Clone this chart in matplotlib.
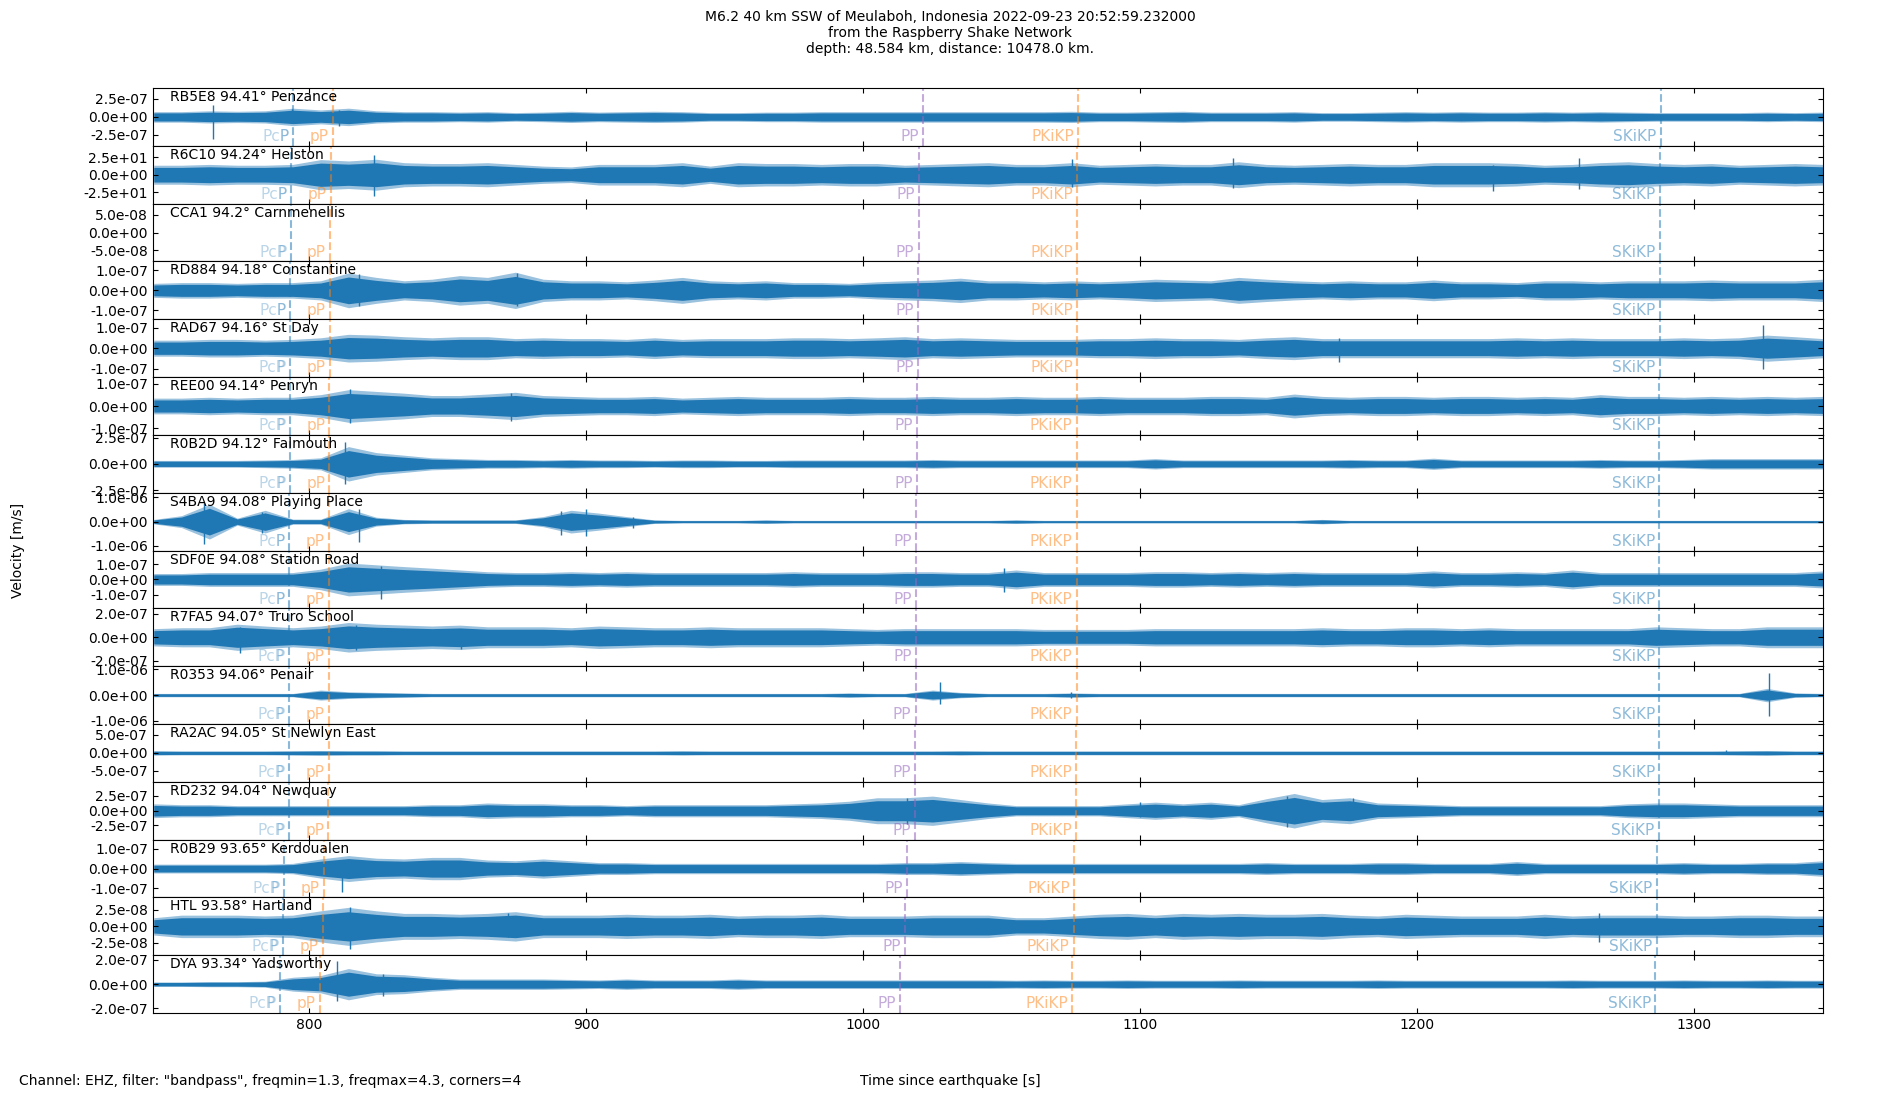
import numpy as np
import matplotlib
matplotlib.use("Agg")
import matplotlib.pyplot as plt
from matplotlib.ticker import FormatStrFormatter

# station info, top to bottom
stations = ["RB5E8", "R6C10", "CCA1", "RD884", "RAD67", "REE00", "R0B2D", "S4BA9",
            "SDF0E", "R7FA5", "R0353", "RA2AC", "RD232", "R0B29", "HTL", "DYA"]
distances = ["94.41", "94.24", "94.2", "94.18", "94.16", "94.14", "94.12", "94.08",
             "94.08", "94.07", "94.06", "94.05", "94.04", "93.65", "93.58", "93.34"]
places = ["Penzance", "Helston", "Carnmenellis", "Constantine", "St Day", "Penryn",
          "Falmouth", "Playing Place", "Station Road", "Truro School", "Penair",
          "St Newlyn East", "Newquay", "Kerdoualen", "Hartland", "Yadsworthy"]

# y tick value and half y-range of each panel
tick_vals = [2.5e-7, 2.5e1, 5e-8, 1e-7, 1e-7, 1e-7, 2.5e-7, 1e-6,
             1e-7, 2e-7, 1e-6, 5e-7, 2.5e-7, 1e-7, 2.5e-8, 2e-7]
y_half = [4.0e-7, 41.5, 8.15e-8, 1.45e-7, 1.41e-7, 1.29e-7, 2.75e-7, 1.19e-6,
          1.9e-7, 2.44e-7, 1.12e-6, 8.0e-7, 4.9e-7, 1.45e-7, 4.35e-8, 2.38e-7]

# arrival times [s] per station
t_P = [794.4, 793.6, 793.4, 793.3, 793.2, 793.2, 793.1, 792.9,
       792.9, 792.8, 792.8, 792.7, 792.7, 790.9, 790.6, 789.5]
t_PcP = t_P
t_pP = [808.6, 807.9, 807.7, 807.6, 807.5, 807.4, 807.4, 807.2,
        807.2, 807.1, 807.1, 807.1, 807.0, 805.3, 805.0, 804.0]
t_PP = [1021.7, 1020.4, 1020.1, 1019.9, 1019.8, 1019.6, 1019.5, 1019.2,
        1019.2, 1019.1, 1019.0, 1018.9, 1018.9, 1015.8, 1015.3, 1013.5]
t_PKiKP = [1077.8, 1077.4, 1077.4, 1077.3, 1077.3, 1077.2, 1077.2, 1077.1,
           1077.1, 1077.1, 1077.1, 1077.0, 1077.0, 1076.2, 1076.1, 1075.6]
t_SKiKP = [1288.0, 1287.7, 1287.6, 1287.6, 1287.6, 1287.5, 1287.5, 1287.4,
           1287.4, 1287.4, 1287.4, 1287.4, 1287.3, 1286.6, 1286.5, 1286.1]

# trace envelopes (half amplitude), read every ~10 s
times = np.linspace(744.0, 1346.5, 61)
env_RB5E8 = np.array([0.56,0.56,0.65,0.60,0.65,0.93,0.74,0.93,0.65,0.56, 0.56,0.51,0.56,0.46,0.51,0.60,0.51,0.56,0.60,0.56,
                      0.46,0.46,0.51,0.51,0.56,0.56,0.56,0.56,0.56,0.56, 0.56,
                      0.56,0.56,0.60,0.51,0.51,0.56,0.60,0.51,0.51,0.51, 0.56,0.46,0.46,0.51,0.56,0.51,0.56,0.51,0.51,0.56,
                      0.51,0.56,0.51,0.46,0.46,0.46,0.46,0.51,0.46,0.51]) * 1e-7
env_R6C10 = np.array([10.5,10.5,11.4,10.5,10.5,11.4,16.7,15.2,17.1,13.3, 12.4,12.4,13.3,11.4,9.5,8.6,11.4,11.4,11.4,13.3,
                      9.5,13.3,12.4,12.4,11.4,12.4,12.4,10.5,11.4,12.4, 13.3,
                      11.4,11.4,13.3,10.5,11.4,12.4,11.4,11.4,14.3,11.4, 10.5,11.4,12.4,11.4,11.4,13.3,13.3,13.3,12.4,10.5,
                      11.4,13.3,14.3,12.4,11.4,12.4,10.5,11.4,12.4,11.4])
env_CCA1 = None
env_RD884 = np.array([.27,.30,.30,.27,.30,.30,.37,.67,.50,.37, .43,.57,.50,.70,.43,.37,.37,.33,.40,.50,
                      .37,.33,.37,.30,.30,.27,.33,.37,.40,.47, .37,
                      .37,.33,.37,.33,.37,.43,.40,.37,.50,.43, .37,.33,.37,.33,.33,.40,.33,.33,.30,.37,
                      .37,.33,.37,.37,.37,.40,.37,.37,.37,.43]) * 1e-7
env_RAD67 = np.array([.30,.30,.33,.33,.30,.33,.39,.52,.49,.43, .39,.43,.43,.36,.39,.36,.36,.33,.39,.33,
                      .36,.36,.36,.39,.39,.36,.39,.43,.36,.39, .36,
                      .33,.33,.33,.36,.36,.39,.36,.36,.33,.39, .43,.36,.36,.36,.36,.36,.36,.36,.39,.36,
                      .39,.36,.36,.36,.39,.36,.39,.49,.43,.36]) * 1e-7
env_REE00 = np.array([.27,.27,.30,.27,.30,.30,.39,.56,.50,.44, .36,.36,.41,.47,.36,.33,.30,.30,.33,.27,
                      .30,.33,.30,.30,.30,.33,.30,.30,.33,.30, .30,
                      .33,.30,.30,.33,.30,.30,.30,.33,.33,.30, .41,.33,.30,.33,.33,.30,.33,.33,.30,.33,
                      .30,.39,.33,.33,.30,.33,.30,.33,.30,.33]) * 1e-7
env_R0B2D = np.array([.25,.25,.25,.25,.28,.32,.44,1.26,.82,.63, .44,.38,.32,.32,.28,.32,.28,.28,.25,.28,
                      .28,.25,.25,.28,.28,.28,.28,.28,.32,.28, .28,
                      .28,.28,.28,.28,.28,.38,.28,.28,.28,.28, .28,.28,.32,.28,.28,.41,.28,.28,.28,.28,
                      .28,.32,.28,.28,.32,.38,.38,.38,.38,.38]) * 1e-7
env_S4BA9 = np.array([.07,.19,.55,.11,.36,.08,.08,.41,.14,.07, .055,.055,.055,.055,.16,.36,.27,.16,.055,.04,
                      .04,.04,.055,.04,.04,.04,.04,.04,.04,.04, .04,
                      .055,.04,.04,.04,.04,.04,.04,.04,.04,.04, .04,.07,.04,.04,.04,.04,.04,.04,.04,.04,
                      .04,.04,.04,.04,.04,.04,.04,.04,.04,.04]) * 1e-6
env_SDF0E = np.array([.30,.30,.35,.35,.35,.35,.52,.83,.74,.65, .57,.48,.39,.35,.35,.39,.35,.39,.35,.35,
                      .35,.35,.35,.39,.35,.35,.35,.39,.39,.35, .35,
                      .48,.35,.35,.35,.35,.39,.39,.35,.39,.35, .39,.35,.35,.35,.35,.43,.35,.35,.39,.35,
                      .48,.35,.35,.35,.35,.35,.35,.35,.35,.43]) * 1e-7
env_R7FA5 = np.array([.56,.62,.62,.85,.73,.62,.73,.96,.85,.79, .73,.79,.68,.68,.68,.62,.73,.68,.62,.62,
                      .68,.62,.62,.62,.62,.56,.51,.56,.56,.56, .56,
                      .56,.51,.51,.51,.51,.56,.56,.56,.56,.56, .56,.62,.56,.56,.62,.62,.56,.62,.56,.56,
                      .56,.56,.56,.68,.62,.56,.56,.68,.68,.68]) * 1e-7
env_R0353 = np.array([.05,.05,.05,.05,.05,.05,.15,.10,.08,.065, .05,.05,.05,.05,.05,.05,.05,.05,.05,.05,
                      .05,.05,.05,.05,.05,.065,.05,.05,.15,.08, .05,
                      .05,.05,.065,.05,.05,.05,.05,.05,.05,.05, .05,.05,.05,.05,.05,.05,.05,.05,.05,.05,
                      .05,.05,.05,.05,.05,.05,.05,.2,.065,.05]) * 1e-6
env_RA2AC = np.array([.46,.42,.42,.42,.42,.46,.50,.46,.46,.42, .42,.42,.42,.42,.42,.42,.42,.42,.42,.46,
                      .42,.42,.42,.42,.42,.42,.42,.42,.42,.46, .42,
                      .42,.42,.42,.42,.42,.42,.42,.42,.42,.42, .42,.42,.42,.42,.42,.42,.42,.42,.42,.42,
                      .42,.42,.42,.42,.42,.42,.46,.50,.42,.42]) * 1e-7
env_RD232 = np.array([.90,.79,.79,.67,.67,.67,.67,.67,.67,.67, .79,.79,1.01,.90,.90,.79,.79,.67,.79,.79,
                      .79,.79,.79,.90,1.01,1.24,1.69,1.69,1.91,1.46, 1.01,
                      .67,.67,.67,.67,.90,1.12,.90,1.12,.79,1.57, 2.25,1.46,1.69,1.01,.90,.79,.67,.67,.67,.67,
                      .67,.67,.90,1.01,1.01,.90,.79,.79,.79,.79]) * 1e-7
env_R0B29 = np.array([.17,.17,.17,.17,.17,.20,.37,.50,.40,.37, .43,.43,.33,.30,.37,.30,.23,.23,.20,.20,
                      .20,.20,.20,.20,.20,.20,.20,.23,.23,.27, .23,
                      .20,.20,.20,.20,.20,.20,.20,.20,.20,.23, .20,.20,.20,.23,.23,.20,.20,.20,.27,.20,
                      .20,.20,.20,.20,.23,.20,.20,.23,.23,.30]) * 1e-7
env_HTL = np.array([1.0,1.3,1.3,1.3,1.2,1.3,1.8,2.2,1.8,1.5, 1.5,1.4,1.5,1.7,1.3,1.3,1.3,1.4,1.3,1.3,
                    1.4,1.2,1.3,1.3,1.4,1.2,1.2,1.2,1.3,1.3, 1.3,
                    1.0,1.0,1.2,1.4,1.5,1.3,1.5,1.4,1.5,1.4, 1.4,1.5,1.3,1.2,1.4,1.3,1.2,1.2,1.2,1.4,
                    1.2,1.3,1.3,1.3,1.2,1.2,1.3,1.3,1.2,1.2]) * 1e-8
env_DYA = np.array([.14,.14,.16,.16,.19,.44,.55,.99,.66,.60, .44,.33,.33,.33,.33,.30,.27,.33,.27,.27,
                    .27,.33,.27,.27,.27,.27,.27,.27,.27,.27, .27,
                    .25,.27,.25,.25,.27,.25,.25,.25,.27,.25, .25,.25,.25,.27,.25,.25,.25,.25,.25,.25,
                    .27,.25,.25,.25,.27,.25,.25,.27,.25,.25]) * 1e-7

# single large excursions: (time, up, down)
spk_RB5E8 = [(765.5, 1.7e-7, 3.05e-7), (794.0, 1.1e-7, 0.8e-7), (811.0, 1.0e-7, 1.2e-7)]
spk_R6C10 = [(823.4, 28.6, 31.0), (1133.6, 23.8, 19.0), (1258.4, 24.0, 21.0), (1075.6, 22.0, 17.0), (1227.5, 14.0, 23.8)]
spk_CCA1 = []
spk_RD884 = [(818.0, 0.8e-7, 0.78e-7), (875.0, 0.88e-7, 0.78e-7)]
spk_RAD67 = [(1325.0, 1.15e-7, 1.0e-7), (1172.0, 0.5e-7, 0.67e-7)]
spk_REE00 = [(815.0, 0.78e-7, 0.77e-7), (873.0, 0.6e-7, 0.65e-7)]
spk_R0B2D = [(813.0, 2.05e-7, 1.95e-7)]
spk_S4BA9 = [(762.0, .78e-6, .93e-6), (783.0, .41e-6, .45e-6), (818.0, .53e-6, .84e-6),
             (891.0, .45e-6, .55e-6), (900.0, .51e-6, .59e-6), (917.0, .2e-6, .27e-6)]
spk_SDF0E = [(1051.0, .74e-7, .83e-7), (826.0, .91e-7, 1.26e-7)]
spk_R7FA5 = [(775.0, .9e-7, 1.33e-7), (817.0, 1.0e-7, 1.1e-7), (855.0, .7e-7, 1.0e-7)]
spk_R0353 = [(1028.0, .5e-6, .36e-6), (1327.0, .86e-6, .81e-6), (1075.0, .13e-6, .1e-6)]
spk_RA2AC = [(1311.6, .73e-7, .4e-7)]
spk_RD232 = [(1153.0, 2.5e-7, 2.8e-7), (1177.0, 2.1e-7, 1.5e-7), (1016.0, 2.1e-7, 2.3e-7), (1100.0, 1.4e-7, 1.0e-7)]
spk_R0B29 = [(812.0, .42e-7, 1.17e-7)]
spk_HTL = [(815.0, 2.85e-8, 3.4e-8), (871.7, 2.0e-8, 1.6e-8), (1265.7, 2.0e-8, 2.4e-8)]
spk_DYA = [(810.0, 1.89e-7, 1.4e-7), (826.6, .85e-7, 1.0e-7)]

envelopes = [env_RB5E8, env_R6C10, env_CCA1, env_RD884, env_RAD67, env_REE00, env_R0B2D, env_S4BA9,
             env_SDF0E, env_R7FA5, env_R0353, env_RA2AC, env_RD232, env_R0B29, env_HTL, env_DYA]
spikes = [spk_RB5E8, spk_R6C10, spk_CCA1, spk_RD884, spk_RAD67, spk_REE00, spk_R0B2D, spk_S4BA9,
          spk_SDF0E, spk_R7FA5, spk_R0353, spk_RA2AC, spk_RD232, spk_R0B29, spk_HTL, spk_DYA]

trace_col = "#1f77b4"
# phase name, times, colour, alpha
phases = [("P", t_P, "tab:blue", 0.3),
          ("PcP", t_PcP, "tab:blue", 0.3),
          ("pP", t_pP, "tab:orange", 0.5),
          ("PP", t_PP, "tab:purple", 0.55),
          ("PKiKP", t_PKiKP, "tab:orange", 0.5),
          ("SKiKP", t_SKiKP, "tab:blue", 0.5)]

fig, axes = plt.subplots(len(stations), 1, sharex=True, figsize=(19, 11), dpi=100)
fig.subplots_adjust(left=0.0805, right=0.9595, top=0.92, bottom=0.079, hspace=0)

for i, ax in enumerate(axes):
    env = envelopes[i]
    if env is not None:
        # lighter fringe for the scattered peaks, solid core for the bulk of the trace
        ax.fill_between(times, -1.3 * env, 1.3 * env, color=trace_col, alpha=0.45, lw=0)
        ax.fill_between(times, -env, env, color=trace_col, lw=0)
    for (ts, up, dn) in spikes[i]:
        ax.vlines(ts, -dn, up, color=trace_col, lw=1.0)

    for name, tt, col, al in phases:
        ax.axvline(tt[i], ls="--", color=col, alpha=al, lw=1.5)
        ax.annotate(name, (tt[i], 0.03), xycoords=("data", "axes fraction"),
                    xytext=(-3, 0), textcoords="offset points",
                    ha="right", va="bottom", fontsize=11, color=col, alpha=al)

    ax.text(0.01, 0.965, "%s %s\u00b0 %s" % (stations[i], distances[i], places[i]),
            transform=ax.transAxes, va="top", ha="left", fontsize=10)

    ax.set_ylim(-y_half[i], y_half[i])
    ax.set_yticks([tick_vals[i], 0, -tick_vals[i]])
    ax.yaxis.set_major_formatter(FormatStrFormatter("%.1e"))
    ax.tick_params(axis="both", direction="in", top=True, right=True, labelsize=10)

axes[-1].set_xlim(743.7, 1346.6)
axes[-1].set_xticks([800, 900, 1000, 1100, 1200, 1300])

fig.text(0.5, 0.991, "M6.2 40 km SSW of Meulaboh, Indonesia 2022-09-23 20:52:59.232000\n"
         "from the Raspberry Shake Network\ndepth: 48.584 km, distance: 10478.0 km.",
         ha="center", va="top", fontsize=10, linespacing=1.2)
fig.text(0.0095, 0.5, "Velocity [m/s]", rotation=90, ha="center", va="center", fontsize=10)
fig.text(0.01, 0.017, 'Channel: EHZ, filter: "bandpass", freqmin=1.3, freqmax=4.3, corners=4',
         ha="left", va="center", fontsize=10)
fig.text(0.5, 0.017, "Time since earthquake [s]", ha="center", va="center", fontsize=10)

fig.savefig("out.png", dpi=100)
